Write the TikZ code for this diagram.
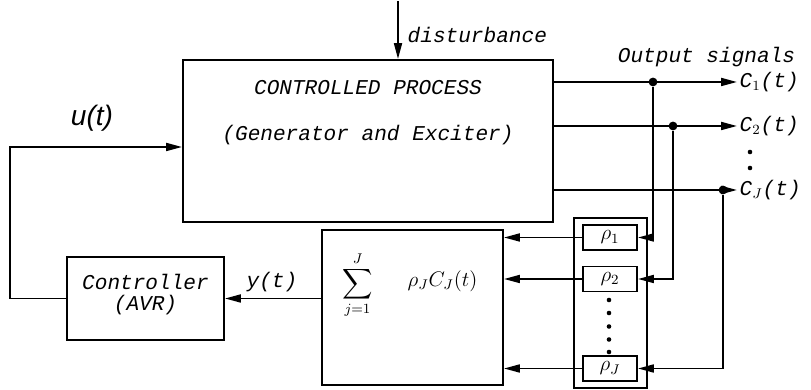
\documentclass[tikz,border=0pt]{standalone}
\usepackage{amsmath,amssymb}
\usepackage{fontspec}
\setmonofont{Liberation Mono}
\setsansfont{Liberation Sans}
\usetikzlibrary{arrows.meta,calc,positioning}

\begin{document}
\begin{tikzpicture}[
  line width=1.1pt,
  sig/.style={-{Triangle[length=9pt,width=4.5pt]}},
  blk/.style={draw,line width=1.1pt,inner sep=0pt},
  lbl/.style={font=\fontsize{12}{14}\selectfont\ttfamily\itshape,inner sep=1pt},
  dot/.style={circle,fill,inner sep=0pt,minimum size=5pt}
]
\useasboundingbox (0,0) rectangle (16.22,7.8);

% Controlled process
\node[blk,minimum width=7.40cm,minimum height=3.24cm] (proc) at (7.36,4.98) {};
\node[lbl] (ptitle) at (7.36,6.04) {CONTROLLED PROCESS};
\node[lbl] (psub) at (7.36,5.10) {(Generator and Exciter)};

% Disturbance input
\coordinate (dtop) at (7.96,7.78);
\draw[sig] (dtop) -- (dtop |- proc.north);
\node[lbl,anchor=west] (dist) at (8.10,7.10) {disturbance};

% Output signals
\node[lbl] (outlbl) at (14.13,6.66) {Output signals};
\coordinate (o1) at (14.74,6.16);
\coordinate (o2) at (14.74,5.28);
\coordinate (oJ) at (14.74,4.00);
\draw[sig] (o1 -| proc.east) -- (o1);
\draw[sig] (o2 -| proc.east) -- (o2);
\draw[sig] (oJ -| proc.east) -- (oJ);
\node[lbl,anchor=west] (c1) at (o1) {C$_1$(t)};
\node[lbl,anchor=west] (c2) at (o2) {C$_2$(t)};
\node[lbl,anchor=west] (cJ) at (oJ) {C$_J$(t)};
\fill (15.0,4.76) circle (1.3pt);
\fill (15.0,4.44) circle (1.3pt);

% Branch points
\node[dot] (j1) at (13.06,6.16) {};
\node[dot] (j2) at (13.46,5.28) {};
\node[dot] (jJ) at (14.46,4.00) {};

% Weighting gains
\node[blk,minimum width=1.46cm,minimum height=3.40cm] (wbox) at (12.21,1.74) {};
\node[blk,minimum width=1.08cm,minimum height=0.50cm,font=\large] (r1) at (12.20,3.05) {$\rho_1$};
\node[blk,minimum width=1.08cm,minimum height=0.50cm,font=\large] (r2) at (12.20,2.22) {$\rho_2$};
\node[blk,minimum width=1.08cm,minimum height=0.50cm,font=\large] (rJ) at (12.20,0.43) {$\rho_J$};
\foreach \y in {1.80,1.54,1.27,1.01,0.76}
  \fill (12.18,\y) circle (1.3pt);

\draw[sig] (j1) |- (r1.east);
\draw[sig] (j2) |- (r2.east);
\draw[sig] (jJ) |- (rJ.east);

% Summation
\node[blk,minimum width=3.62cm,minimum height=3.10cm] (sum) at (8.25,1.65) {};
\node[font=\large,inner sep=0pt] (sigma) at (7.15,2.10) {$\displaystyle\sum_{j=1}^{J}$};
\node[font=\large,inner sep=1pt] (wsum) at (8.85,2.18) {$\rho_J C_J(t)$};

\draw[sig] (r1.west) -- (r1.west -| sum.east);
\draw[sig] (r2.west) -- (r2.west -| sum.east);
\draw[sig] (rJ.west) -- (rJ.west -| sum.east);

% Controller
\node[blk,minimum width=3.14cm,minimum height=1.66cm] (ctrl) at (2.91,1.83) {};
\node[lbl] (ctitle) at (2.91,2.16) {Controller};
\node[lbl] (csub) at (2.91,1.70) {(AVR)};

\draw[sig] (ctrl.east -| sum.west) -- (ctrl.east);
\node[lbl] (ylbl) at (5.44,2.16) {y(t)};

% Feedback to process
\draw[sig] (ctrl.west) -- (0.20,1.83) -- (0.20,4.86) -- ($(proc.west)+(0,-0.12)$);
\node[font=\fontsize{16}{18}\selectfont\sffamily\itshape] (ulbl) at (1.84,5.44) {u(t)};

\end{tikzpicture}
\end{document}
